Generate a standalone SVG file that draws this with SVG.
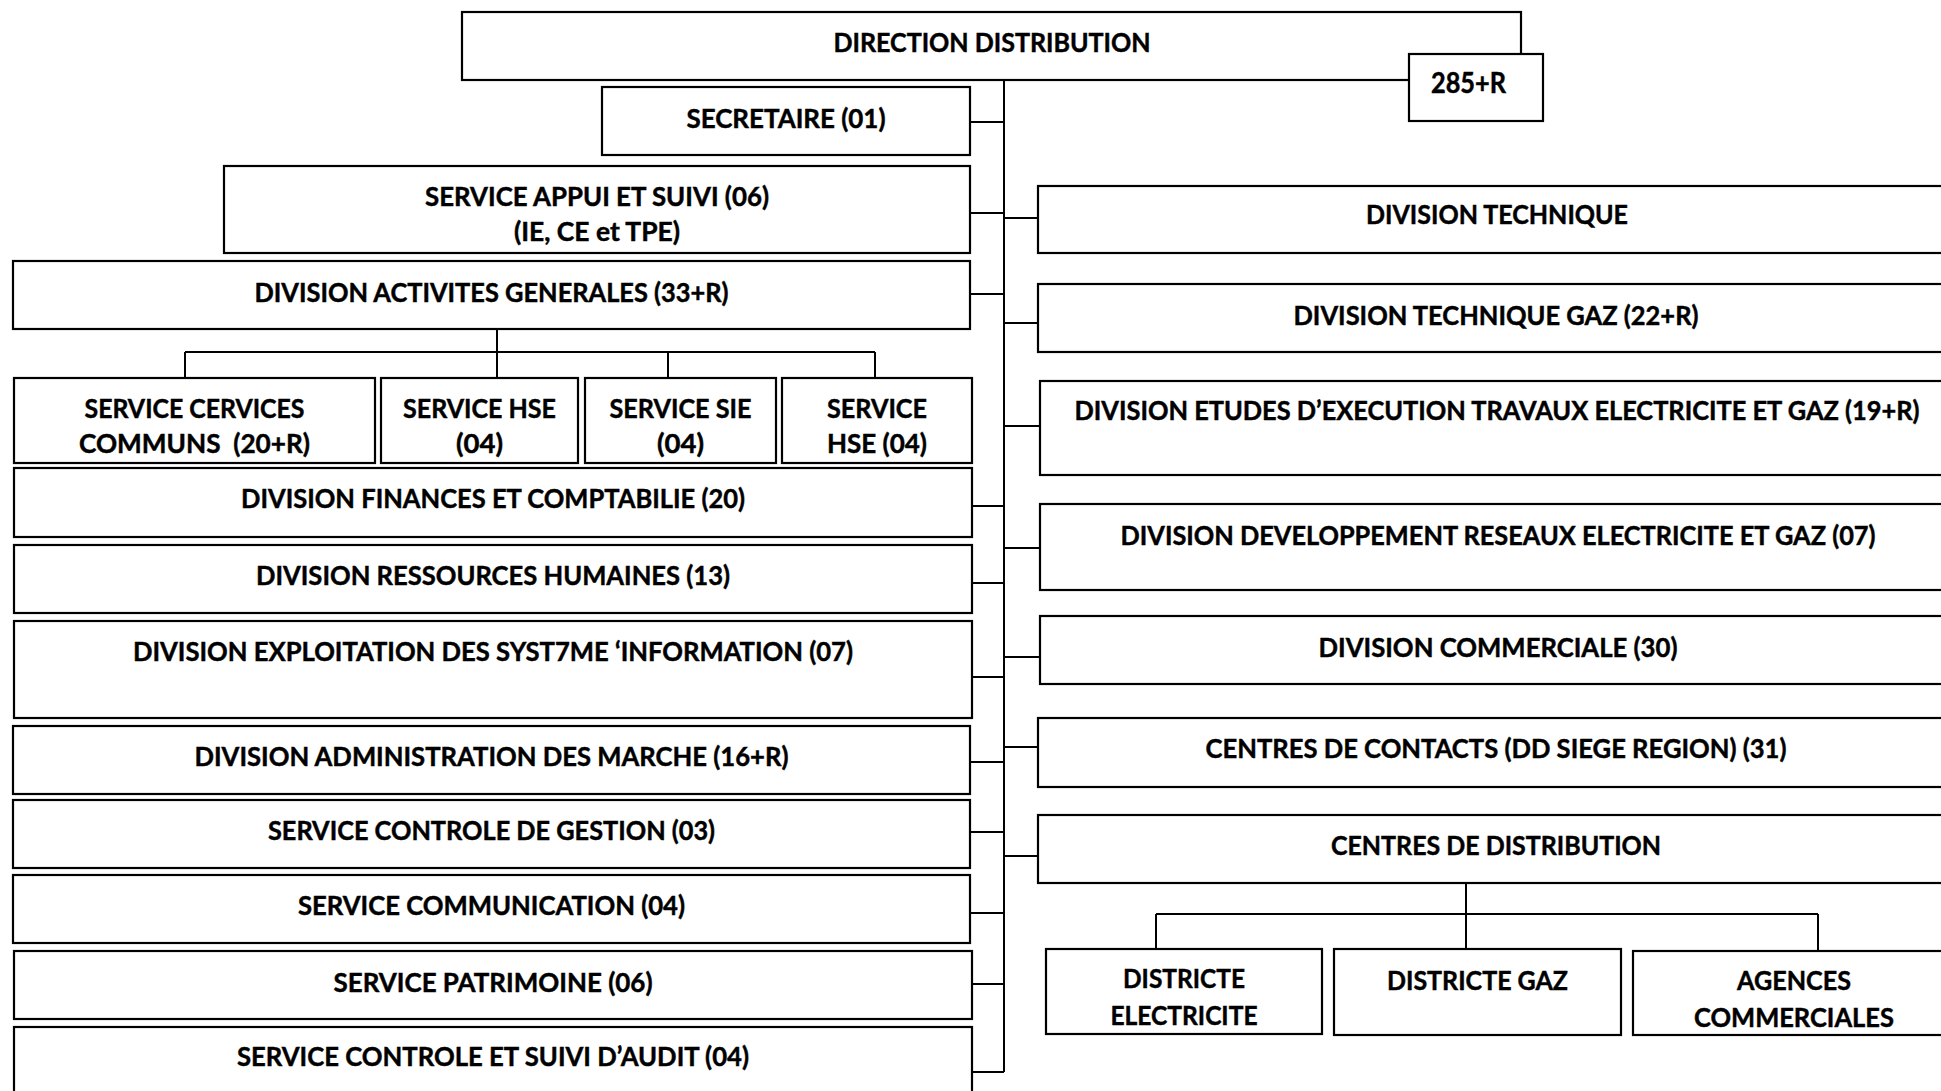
<svg xmlns="http://www.w3.org/2000/svg" width="1941" height="1091" viewBox="0 0 1941 1091">
  <style>
    .box { fill: #ffffff; stroke: #000000; stroke-width: 2.2; }
    .link { fill: none; stroke: #000000; stroke-width: 2; }
    .t { font-family: "Lato", "Carlito", "Liberation Sans", sans-serif; font-weight: 700; font-size: 26.5px; fill: #000000; stroke: #000000; stroke-width: 0.45px; text-anchor: middle; }
    .big { font-size: 28px; }
  </style>
  <rect x="0" y="0" width="1941" height="1091" fill="#ffffff"/>

  <!-- connectors: main trunk, side ticks and sub-trees -->
  <g id="connectors">
    <path class="link" d="M1004 80 V1072"/>
    <!-- left branches -->
    <path class="link" d="M970 122 H1004 M970 213 H1004 M970 294 H1004 M972 506 H1004 M972 583 H1004 M972 677 H1004 M970 762 H1004 M970 832 H1004 M970 913 H1004 M972 984 H1004 M972 1072 H1004"/>
    <!-- right branches -->
    <path class="link" d="M1004 218 H1038 M1004 323 H1038 M1004 426 H1040 M1004 548 H1040 M1004 657 H1040 M1004 747 H1038 M1004 856 H1038"/>
    <!-- division activites generales sub-tree -->
    <path class="link" d="M497 329 V352 M185 352 H875 M185 352 V378 M497 352 V378 M668 352 V378 M875 352 V378"/>
    <!-- centres de distribution sub-tree -->
    <path class="link" d="M1466 883 V949 M1156 914 H1818 M1156 914 V949 M1818 914 V951"/>
  </g>

  <g id="direction">
    <rect class="box" x="462" y="12" width="1059" height="68"/>
    <text class="t" x="992" y="51.5" textLength="317" lengthAdjust="spacingAndGlyphs">DIRECTION DISTRIBUTION</text>
  </g>
  <g id="effectif">
    <rect class="box" x="1409" y="54" width="134" height="67"/>
    <text class="t big" x="1468.5" y="93" textLength="75" lengthAdjust="spacingAndGlyphs">285+R</text>
  </g>

  <!-- left column -->
  <g id="secretaire">
    <rect class="box" x="602" y="87" width="368" height="68"/>
    <text class="t" x="786" y="128" textLength="199" lengthAdjust="spacingAndGlyphs">SECRETAIRE (01)</text>
  </g>
  <g id="service-appui">
    <rect class="box" x="224" y="166" width="746" height="87"/>
    <text class="t" x="597" y="205.5" textLength="344" lengthAdjust="spacingAndGlyphs">SERVICE APPUI ET SUIVI (06)</text>
    <text class="t" x="597" y="240.5" textLength="166" lengthAdjust="spacingAndGlyphs">(IE, CE et TPE)</text>
  </g>
  <g id="division-activites">
    <rect class="box" x="13" y="261" width="957" height="68"/>
    <text class="t" x="491.5" y="301.5" textLength="474" lengthAdjust="spacingAndGlyphs">DIVISION ACTIVITES GENERALES (33+R)</text>
  </g>
  <g id="service-communs">
    <rect class="box" x="14" y="378" width="361" height="85"/>
    <text class="t" x="194.5" y="418" textLength="220" lengthAdjust="spacingAndGlyphs">SERVICE CERVICES</text>
    <text class="t" x="194.5" y="453" textLength="231" lengthAdjust="spacingAndGlyphs" xml:space="preserve">COMMUNS  (20+R)</text>
  </g>
  <g id="service-hse-1">
    <rect class="box" x="381" y="378" width="197" height="85"/>
    <text class="t" x="479.5" y="418" textLength="153" lengthAdjust="spacingAndGlyphs">SERVICE HSE</text>
    <text class="t" x="479.5" y="453" textLength="47" lengthAdjust="spacingAndGlyphs">(04)</text>
  </g>
  <g id="service-sie">
    <rect class="box" x="585" y="378" width="191" height="85"/>
    <text class="t" x="680.5" y="418" textLength="142" lengthAdjust="spacingAndGlyphs">SERVICE SIE</text>
    <text class="t" x="680.5" y="453" textLength="47" lengthAdjust="spacingAndGlyphs">(04)</text>
  </g>
  <g id="service-hse-2">
    <rect class="box" x="782" y="378" width="190" height="85"/>
    <text class="t" x="877" y="418" textLength="100" lengthAdjust="spacingAndGlyphs">SERVICE</text>
    <text class="t" x="877" y="453" textLength="100" lengthAdjust="spacingAndGlyphs">HSE (04)</text>
  </g>
  <g id="division-finances">
    <rect class="box" x="14" y="468" width="958" height="69"/>
    <text class="t" x="493" y="507.5" textLength="504" lengthAdjust="spacingAndGlyphs">DIVISION FINANCES ET COMPTABILIE (20)</text>
  </g>
  <g id="division-rh">
    <rect class="box" x="14" y="545" width="958" height="68"/>
    <text class="t" x="493" y="584.5" textLength="474" lengthAdjust="spacingAndGlyphs">DIVISION RESSOURCES HUMAINES (13)</text>
  </g>
  <g id="division-exploitation">
    <rect class="box" x="14" y="621" width="958" height="97"/>
    <text class="t" x="493" y="660.5" textLength="720" lengthAdjust="spacingAndGlyphs">DIVISION EXPLOITATION DES SYST7ME ‘INFORMATION (07)</text>
  </g>
  <g id="division-marche">
    <rect class="box" x="13" y="726" width="957" height="68"/>
    <text class="t" x="491.5" y="765.5" textLength="594" lengthAdjust="spacingAndGlyphs">DIVISION ADMINISTRATION DES MARCHE (16+R)</text>
  </g>
  <g id="service-controle-gestion">
    <rect class="box" x="13" y="800" width="957" height="68"/>
    <text class="t" x="491.5" y="839.5" textLength="447" lengthAdjust="spacingAndGlyphs">SERVICE CONTROLE DE GESTION (03)</text>
  </g>
  <g id="service-communication">
    <rect class="box" x="13" y="875" width="957" height="68"/>
    <text class="t" x="491.5" y="914.5" textLength="387" lengthAdjust="spacingAndGlyphs">SERVICE COMMUNICATION (04)</text>
  </g>
  <g id="service-patrimoine">
    <rect class="box" x="14" y="951" width="958" height="68"/>
    <text class="t" x="493" y="991.5" textLength="319" lengthAdjust="spacingAndGlyphs">SERVICE PATRIMOINE (06)</text>
  </g>
  <g id="service-audit">
    <rect class="box" x="14" y="1027" width="958" height="80"/>
    <text class="t" x="493" y="1065.5" textLength="512" lengthAdjust="spacingAndGlyphs">SERVICE CONTROLE ET SUIVI D’AUDIT (04)</text>
  </g>

  <!-- right column -->
  <g id="division-technique">
    <rect class="box" x="1038" y="186" width="920" height="67"/>
    <text class="t" x="1497" y="223.5" textLength="262" lengthAdjust="spacingAndGlyphs">DIVISION TECHNIQUE</text>
  </g>
  <g id="division-technique-gaz">
    <rect class="box" x="1038" y="284" width="920" height="68"/>
    <text class="t" x="1496" y="324.5" textLength="405" lengthAdjust="spacingAndGlyphs">DIVISION TECHNIQUE GAZ (22+R)</text>
  </g>
  <g id="division-etudes">
    <rect class="box" x="1040" y="381" width="918" height="94"/>
    <text class="t" x="1497" y="419.5" textLength="845" lengthAdjust="spacingAndGlyphs">DIVISION ETUDES D’EXECUTION TRAVAUX ELECTRICITE ET GAZ (19+R)</text>
  </g>
  <g id="division-developpement">
    <rect class="box" x="1040" y="504" width="918" height="86"/>
    <text class="t" x="1498" y="544.5" textLength="755" lengthAdjust="spacingAndGlyphs">DIVISION DEVELOPPEMENT RESEAUX ELECTRICITE ET GAZ (07)</text>
  </g>
  <g id="division-commerciale">
    <rect class="box" x="1040" y="616" width="918" height="68"/>
    <text class="t" x="1498" y="656.5" textLength="359" lengthAdjust="spacingAndGlyphs">DIVISION COMMERCIALE (30)</text>
  </g>
  <g id="centres-contacts">
    <rect class="box" x="1038" y="718" width="920" height="69"/>
    <text class="t" x="1496" y="757.5" textLength="581" lengthAdjust="spacingAndGlyphs">CENTRES DE CONTACTS (DD SIEGE REGION) (31)</text>
  </g>
  <g id="centres-distribution">
    <rect class="box" x="1038" y="815" width="920" height="68"/>
    <text class="t" x="1496" y="854.5" textLength="330" lengthAdjust="spacingAndGlyphs">CENTRES DE DISTRIBUTION</text>
  </g>
  <g id="districte-electricite">
    <rect class="box" x="1046" y="949" width="276" height="85"/>
    <text class="t" x="1184" y="987.5" textLength="122" lengthAdjust="spacingAndGlyphs">DISTRICTE</text>
    <text class="t" x="1184" y="1024.5" textLength="147" lengthAdjust="spacingAndGlyphs">ELECTRICITE</text>
  </g>
  <g id="districte-gaz">
    <rect class="box" x="1334" y="949" width="287" height="86"/>
    <text class="t" x="1477.5" y="989.5" textLength="181" lengthAdjust="spacingAndGlyphs">DISTRICTE GAZ</text>
  </g>
  <g id="agences-commerciales">
    <rect class="box" x="1633" y="951" width="325" height="84"/>
    <text class="t" x="1794" y="989.5" textLength="114" lengthAdjust="spacingAndGlyphs">AGENCES</text>
    <text class="t" x="1794" y="1026.5" textLength="200" lengthAdjust="spacingAndGlyphs">COMMERCIALES</text>
  </g>
</svg>
